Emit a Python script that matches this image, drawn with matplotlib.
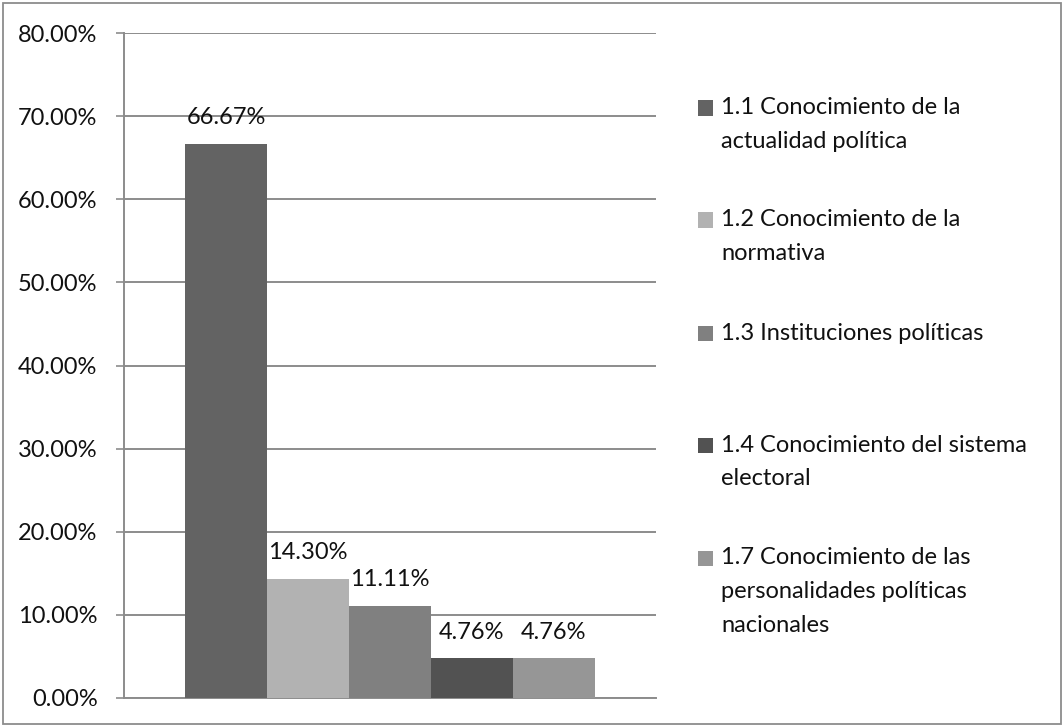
import matplotlib.pyplot as plt
from matplotlib.patches import Rectangle

# share of responses per knowledge category
categories = [
    "1.1 Conocimiento de la\nactualidad política",
    "1.2 Conocimiento de la\nnormativa",
    "1.3 Instituciones políticas",
    "1.4 Conocimiento del sistema\nelectoral",
    "1.7 Conocimiento de las\npersonalidades políticas\nnacionales",
]
values = [66.67, 14.30, 11.11, 4.76, 4.76]
colors = ["#636363", "#b2b2b2", "#808080", "#525252", "#969696"]
yticks = [0, 10, 20, 30, 40, 50, 60, 70, 80]

plt.rcParams['font.family'] = ['Lato', 'DejaVu Sans']
W, H = 1063, 726
FS = 17
fig = plt.figure(figsize=(W / 100, H / 100), dpi=100)
ax = fig.add_axes([124 / W, (H - 698) / H, (656 - 124) / W, (698 - 33) / H])

grey = "#8c8c8c"
txt = "#111111"
x = list(range(len(values)))
bars = ax.bar(x, values, width=1.0, color=colors, edgecolor="none", zorder=3)
for xi, v in zip(x, values):
    ax.annotate(f"{v:.2f}%", (xi, v), xytext=(0, 19), textcoords="offset points",
                ha="center", va="center", fontsize=FS, color=txt, zorder=4)

ax.set_xlim(-0.5 - 0.745, len(values) - 0.5 + 0.745)
ax.set_ylim(0, 80)
ax.set_yticks(yticks)
ax.set_yticklabels([f"{t:.2f}%" for t in yticks], fontsize=FS, color=txt)
ax.set_xticks([])
ax.yaxis.grid(True, color=grey, linewidth=1.4, zorder=0)
ax.tick_params(axis="y", length=6, width=1.2, color=grey, pad=13)
for side in ["top", "right"]:
    ax.spines[side].set_visible(False)
for side in ["left", "bottom"]:
    ax.spines[side].set_color(grey)
    ax.spines[side].set_linewidth(1.4)

# legend drawn by hand so every entry starts at an even step
first_lines = [108, 220, 333, 445, 558]
line_step = 33.5
for label, color, y0 in zip(categories, colors, first_lines):
    fig.patches.append(Rectangle((698 / W, (H - y0 - 7.5) / H), 15 / W, 15 / H,
                                 transform=fig.transFigure, facecolor=color,
                                 edgecolor="none"))
    for i, line in enumerate(label.split("\n")):
        fig.text(721 / W, (H - y0 - i * line_step) / H, line, fontsize=FS,
                 color=txt, ha="left", va="center")

# outer chart frame
fig.patches.append(Rectangle((2.5 / W, 2.5 / H), (W - 4.5) / W, (H - 5) / H,
                             transform=fig.transFigure, facecolor="none",
                             edgecolor=grey, linewidth=1.3))

fig.savefig("out.png", dpi=100)
